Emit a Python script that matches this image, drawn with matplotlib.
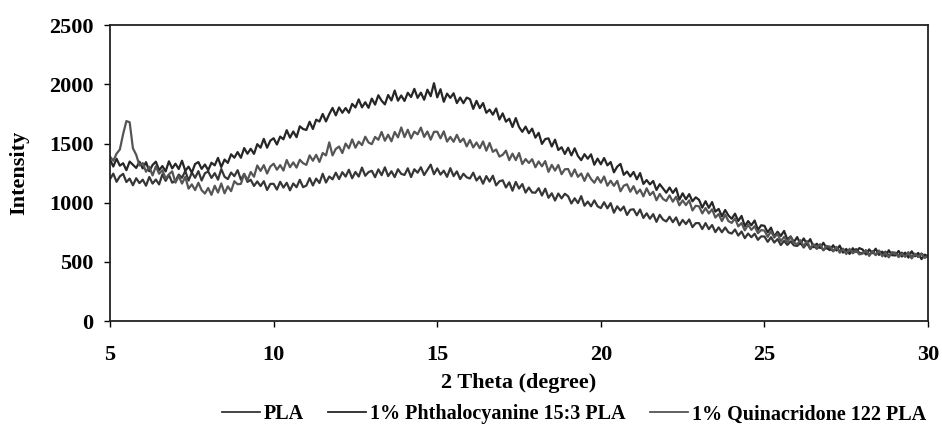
import numpy as np
import matplotlib
matplotlib.use("Agg")
import matplotlib.pyplot as plt
from matplotlib.lines import Line2D

# XRD patterns, intensity every 0.1 degree from 5 to 30
two_theta = np.round(np.linspace(5, 30, 251), 1)

phthalocyanine = [
    1365, 1306, 1372, 1313, 1334, 1275, 1348, 1321, 1294, 1347,
    1290, 1343, 1266, 1319, 1347, 1275, 1310, 1265, 1350, 1290,
    1330, 1285, 1355, 1270, 1305, 1255, 1327, 1344, 1286, 1323,
    1275, 1338, 1316, 1379, 1302, 1365, 1337, 1409, 1381, 1428,
    1380, 1462, 1414, 1456, 1413, 1495, 1465, 1540, 1465, 1525,
    1545, 1492, 1559, 1536, 1613, 1550, 1602, 1554, 1646, 1623,
    1615, 1684, 1623, 1702, 1686, 1750, 1687, 1749, 1801, 1738,
    1805, 1760, 1800, 1760, 1835, 1805, 1873, 1806, 1849, 1802,
    1880, 1829, 1908, 1862, 1831, 1910, 1864, 1948, 1862, 1906,
    1860, 1929, 1893, 1962, 1886, 1930, 1870, 1955, 1900, 2010,
    1890, 1959, 1853, 1922, 1886, 1925, 1842, 1889, 1841, 1888,
    1875, 1793, 1861, 1799, 1842, 1760, 1787, 1744, 1796, 1703,
    1755, 1685, 1710, 1640, 1715, 1640, 1599, 1643, 1587, 1626,
    1550, 1591, 1497, 1538, 1544, 1475, 1533, 1446, 1469, 1412,
    1465, 1400, 1460, 1395, 1360, 1410, 1372, 1409, 1321, 1373,
    1325, 1378, 1316, 1344, 1257, 1305, 1328, 1236, 1264, 1222,
    1260, 1198, 1251, 1159, 1192, 1155, 1184, 1108, 1157, 1121,
    1085, 1129, 1083, 1122, 1026, 1080, 1029, 1073, 1012, 1046,
    1025, 959, 1013, 957, 1006, 925, 948, 886, 939, 892,
    865, 908, 846, 889, 802, 845, 810, 850, 770, 810,
    805, 750, 790, 715, 755, 720, 762, 689, 716, 668,
    710, 652, 699, 651, 693, 625, 654, 618, 662, 616,
    600, 641, 597, 638, 579, 610, 568, 616, 584, 617,
    605, 563, 606, 574, 612, 560, 588, 546, 599, 557,
    555, 593, 546, 579, 537, 590, 548, 576, 524, 562,
    545,
]

quinacridone = [
    1390, 1355, 1415, 1450, 1580, 1690, 1680, 1460, 1405, 1315,
    1335, 1262, 1304, 1231, 1308, 1245, 1275, 1205, 1240, 1265,
    1170, 1226, 1162, 1218, 1119, 1155, 1107, 1169, 1106, 1078,
    1125, 1067, 1144, 1086, 1163, 1080, 1139, 1098, 1182, 1156,
    1160, 1245, 1190, 1260, 1220, 1315, 1269, 1318, 1247, 1306,
    1330, 1279, 1318, 1272, 1361, 1300, 1341, 1297, 1363, 1334,
    1320, 1400, 1355, 1405, 1345, 1420, 1400, 1510, 1400, 1455,
    1475, 1420, 1500, 1460, 1535, 1465, 1516, 1487, 1558, 1509,
    1495, 1556, 1532, 1598, 1524, 1575, 1519, 1598, 1552, 1636,
    1555, 1617, 1544, 1601, 1578, 1635, 1556, 1602, 1533, 1599,
    1600, 1544, 1603, 1517, 1556, 1515, 1574, 1513, 1542, 1476,
    1530, 1467, 1509, 1461, 1518, 1440, 1505, 1430, 1450, 1390,
    1405, 1440, 1360, 1415, 1360, 1420, 1327, 1369, 1336, 1368,
    1300, 1349, 1308, 1352, 1261, 1320, 1272, 1319, 1241, 1283,
    1285, 1223, 1281, 1219, 1247, 1185, 1248, 1201, 1169, 1217,
    1170, 1222, 1144, 1186, 1143, 1185, 1097, 1144, 1156, 1093,
    1140, 1078, 1111, 1054, 1122, 1065, 1093, 1021, 1074, 1032,
    1015, 1062, 1009, 1051, 978, 1020, 980, 1020, 935, 975,
    970, 910, 955, 910, 945, 875, 905, 845, 900, 845,
    830, 868, 801, 829, 767, 815, 771, 802, 743, 769,
    765, 712, 759, 706, 738, 675, 712, 669, 711, 663,
    650, 684, 633, 677, 616, 650, 620, 650, 600, 635,
    630, 591, 627, 578, 609, 567, 610, 573, 596, 564,
    570, 598, 551, 589, 557, 595, 548, 576, 539, 582,
    577, 541, 570, 543, 581, 530, 569, 542, 570, 534,
    552,
]

pla = [
    1200, 1246, 1177, 1223, 1244, 1175, 1204, 1148, 1207, 1166,
    1195, 1144, 1218, 1162, 1196, 1155, 1240, 1185, 1235, 1170,
    1185, 1238, 1211, 1269, 1187, 1255, 1211, 1267, 1188, 1249,
    1265, 1210, 1250, 1195, 1285, 1220, 1200, 1255, 1225, 1275,
    1195, 1243, 1176, 1194, 1142, 1180, 1141, 1182, 1108, 1159,
    1160, 1111, 1177, 1128, 1169, 1105, 1163, 1131, 1194, 1132,
    1145, 1208, 1146, 1204, 1167, 1245, 1171, 1222, 1198, 1254,
    1200, 1258, 1221, 1279, 1207, 1260, 1221, 1297, 1228, 1259,
    1270, 1216, 1282, 1233, 1299, 1225, 1266, 1217, 1283, 1244,
    1235, 1291, 1217, 1283, 1254, 1300, 1234, 1278, 1322, 1241,
    1290, 1238, 1271, 1219, 1292, 1225, 1265, 1200, 1245, 1215,
    1205, 1254, 1188, 1222, 1161, 1225, 1179, 1228, 1147, 1181,
    1190, 1129, 1173, 1102, 1176, 1120, 1158, 1086, 1129, 1087,
    1085, 1123, 1061, 1119, 1042, 1080, 1019, 1078, 1037, 1076,
    1055, 994, 1038, 997, 1056, 975, 1010, 970, 1020, 970,
    955, 1004, 953, 997, 916, 970, 934, 968, 897, 941,
    945, 894, 943, 872, 911, 865, 904, 839, 898, 858,
    842, 882, 836, 876, 810, 855, 820, 859, 794, 828,
    828, 778, 828, 777, 812, 752, 792, 751, 791, 750,
    740, 774, 723, 757, 701, 740, 709, 738, 687, 716,
    715, 670, 709, 664, 693, 643, 678, 644, 674, 640,
    635, 661, 622, 658, 609, 640, 611, 638, 599, 626,
    622, 590, 622, 590, 612, 575, 603, 576, 609, 577,
    575, 598, 561, 589, 562, 595, 563, 587, 550, 578,
    577, 551, 579, 553, 581, 540, 569, 542, 571, 544,
    555,
]

labels = ["PLA", "1% Phthalocyanine 15:3 PLA", "1% Quinacridone 122 PLA"]
colors = ["#363636", "#262626", "#555555"]

plt.rcParams["font.family"] = ["Liberation Serif", "DejaVu Serif"]
plt.rcParams["font.weight"] = "bold"

fig = plt.figure(figsize=(9.42, 4.34), dpi=100)
ax = fig.add_axes([0.1168, 0.260, 0.8684, 0.682])

ax.plot(two_theta, pla, color=colors[0], lw=1.6)
ax.plot(two_theta, phthalocyanine, color=colors[1], lw=1.6)
ax.plot(two_theta, quinacridone, color=colors[2], lw=1.6)

ax.set_xlim(5, 30)
ax.set_ylim(0, 2500)
ax.set_xticks([5, 10, 15, 20, 25, 30])
ax.set_yticks([0, 500, 1000, 1500, 2000, 2500])
ax.tick_params(direction="out", length=4, width=1, labelsize=16)
ax.tick_params(axis="x", pad=13)
ax.tick_params(axis="y", pad=8)
for lab in ax.get_xticklabels() + ax.get_yticklabels():
    lab.set_fontweight("bold")
for sp in ax.spines.values():
    sp.set_linewidth(1.3)
    sp.set_color("#222222")

ax.set_xlabel("2 Theta (degree)", fontsize=16, fontweight="bold", labelpad=6)
ax.set_ylabel("Intensity", fontsize=16, fontweight="bold", labelpad=14)

handles = [Line2D([], [], color=c, lw=1.3) for c in colors]
fig.legend(handles, labels, loc="center", bbox_to_anchor=(574 / 942, 0.045),
           ncol=3, frameon=False, fontsize=14.5, handlelength=1.9,
           handletextpad=0.2, columnspacing=1.2, borderpad=0.2)

fig.savefig("out.png", dpi=100)
